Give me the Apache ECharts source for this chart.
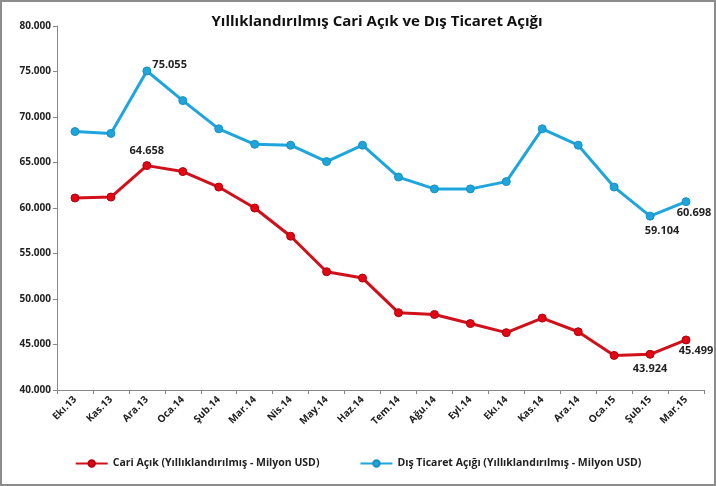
<!DOCTYPE html>
<html><head><meta charset="utf-8">
<script src="https://cdn.jsdelivr.net/npm/echarts@6/dist/echarts.min.js"></script>
<style>html,body{margin:0;padding:0;background:#fff}#c{width:716px;height:486px;box-sizing:border-box;border:2px solid #8c8c8c}</style>
</head><body><div id="c"></div>
<script>
const categories = ['Ekı.13','Kas.13','Ara.13','Oca.14','Şub.14','Mar.14','Nis.14','May.14','Haz.14','Tem.14','Ağu.14','Eyl.14','Ekı.14','Kas.14','Ara.14','Oca.15','Şub.15','Mar.15'];
const cariAcik = [61100,61200,64658,64000,62300,60000,56900,53000,52300,48500,48300,47300,46300,47900,46400,43800,43924,45499];
const disTicaret = [68400,68200,75055,71800,68700,67000,66900,65100,66900,63400,62100,62100,62900,68700,66900,62300,59104,60698];
const labelIdxCari = [2,16,17];
const labelIdxDis = [2,16,17];
const fmt = v => String(Math.round(v)).replace(/\B(?=(\d{3})+(?!\d))/g, '.');
const ch = echarts.init(document.getElementById('c'));
function mk(vals, idxs, posMap) {
  return vals.map((v,i) => idxs.includes(i) ? {value:v, label:{show:true, position:posMap[i]||'top'}} : v);
}
ch.setOption({
  animation:false,
  title:{text:'Yıllıklandırılmış Cari Açık ve Dış Ticaret Açığı', left:370, top:7, textAlign:'center',
    textStyle:{fontFamily:'Open Sans',fontSize:15,fontWeight:'bold',color:'#111'}},
  grid:{left:55, right:10, top:24, bottom:94, containLabel:false},
  legend:{bottom:10, left:'center', itemWidth:32, itemHeight:8, itemGap:40,
    textStyle:{fontFamily:'Open Sans',fontSize:10.5,fontWeight:'bold',color:'#222'},
    data:['Cari Açık (Yıllıklandırılmış - Milyon USD)','Dış Ticaret Açığı (Yıllıklandırılmış - Milyon USD)']},
  xAxis:{type:'category', data:categories, boundaryGap:true,
    axisLine:{lineStyle:{color:'#888'}}, axisTick:{show:true, length:4, inside:false, lineStyle:{color:'#888'}},
    axisLabel:{rotate:45, fontFamily:'Open Sans', fontSize:10, fontWeight:'bold', color:'#222', margin:8}},
  yAxis:{type:'value', min:40000, max:80000, interval:5000, splitLine:{show:false},
    axisLine:{show:true, lineStyle:{color:'#888'}}, axisTick:{show:true, length:4, lineStyle:{color:'#888'}},
    axisLabel:{formatter:fmt, fontFamily:'Open Sans', fontSize:10, fontWeight:'bold', color:'#222', margin:6}},
  series:[
    {name:'Cari Açık (Yıllıklandırılmış - Milyon USD)', type:'line', data:mk(cariAcik,labelIdxCari,{2:'top',16:'bottom',17:'bottom'}),
     symbol:'circle', symbolSize:8, color:'#e30613', lineStyle:{width:3, color:'#d0101a'},
     itemStyle:{color:'#e30613', borderColor:'#b00010', borderWidth:1},
     label:{show:false, formatter:p=>fmt(p.value), fontFamily:'Open Sans', fontSize:11, fontWeight:'bold', color:'#222'},
     labelLayout:function(p){ if(p.dataIndex===17) return {dx:10,dy:-4}; return {}; }},
    {name:'Dış Ticaret Açığı (Yıllıklandırılmış - Milyon USD)', type:'line', data:mk(disTicaret,labelIdxDis,{2:'right',16:'bottom',17:'bottom'}),
     symbol:'circle', symbolSize:8, color:'#1ea5dc', lineStyle:{width:3, color:'#1ea5dc'},
     itemStyle:{color:'#1ea5dc', borderColor:'#1a8fc0', borderWidth:1},
     label:{show:false, formatter:p=>fmt(p.value), fontFamily:'Open Sans', fontSize:11, fontWeight:'bold', color:'#222'},
     labelLayout:function(p){ if(p.dataIndex===2) return {dx:-4,dy:-6}; if(p.dataIndex===17) return {dx:8,dy:-4}; if(p.dataIndex===16) return {dx:12}; return {}; }}
  ]
});
</script></body></html>
